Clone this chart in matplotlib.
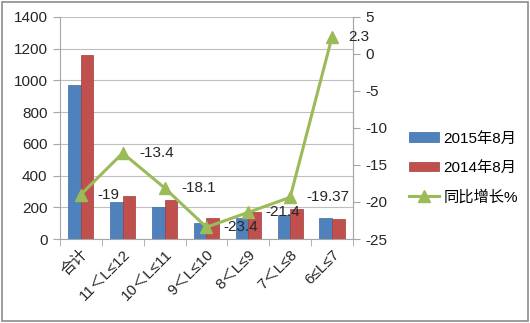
import numpy as np
import matplotlib.pyplot as plt
from matplotlib.patches import Rectangle

plt.rcParams['font.family'] = ['Liberation Sans', 'Noto Sans CJK SC', 'DejaVu Sans']
plt.rcParams['axes.unicode_minus'] = False

categories = ['合计', '11＜L≤12', '10＜L≤11', '9＜L≤10', '8＜L≤9', '7＜L≤8', '6≤L≤7']
sales_2015 = [970, 235, 201, 104, 135, 151, 130]
sales_2014 = [1158, 271, 245, 135, 170, 187, 127]
growth = [-19, -13.4, -18.1, -23.4, -21.4, -19.37, 2.3]
growth_labels = ['-19', '-13.4', '-18.1', '-23.4', '-21.4', '-19.37', '2.3']

blue = '#4F81BD'
red = '#C0504D'
green = '#9BBB59'
gray = '#A6A6A6'

fig = plt.figure(figsize=(5.3, 3.23), dpi=100)
ax = fig.add_axes([0.113, 0.26, 0.553, 0.688])
x = np.arange(len(categories))
w = 0.3
b1 = ax.bar(x - w / 2, sales_2015, w, color=blue, edgecolor='#3A6BA5', linewidth=0.5, label='2015年8月', zorder=2)
b2 = ax.bar(x + w / 2, sales_2014, w, color=red, edgecolor='#A23C39', linewidth=0.5, label='2014年8月', zorder=2)

ax.set_ylim(0, 1400)
ax.set_yticks(range(0, 1401, 200))
ax.set_xlim(-0.5, len(categories) - 0.5)
ax.yaxis.grid(True, color='#BFBFBF', linewidth=0.8, zorder=0)
ax.set_axisbelow(True)
ax.spines['top'].set_visible(False)
for s in ['left', 'bottom', 'right']:
    ax.spines[s].set_color(gray)
ax.set_xticks(x)
ax.set_xticklabels(categories, rotation=45, ha='right', rotation_mode='anchor', fontsize=11, color='#262626')
ax.set_xticks(np.arange(-0.5, len(categories), 1), minor=True)
ax.tick_params(axis='x', which='major', length=0, pad=6)
ax.tick_params(axis='x', which='minor', length=5, color=gray)
ax.tick_params(axis='y', length=5, color=gray, labelsize=11, labelcolor='#262626', pad=4)

ax2 = ax.twinx()
ax2.set_ylim(-25, 5)
ax2.set_yticks(range(-25, 6, 5))
ax2.tick_params(axis='y', length=5, color=gray, labelsize=11, labelcolor='#262626', pad=4)
for s in ['top', 'left', 'bottom']:
    ax2.spines[s].set_visible(False)
ax2.spines['right'].set_color(gray)
ln, = ax2.plot(x, growth, color=green, linewidth=2.2, marker='^', markersize=8,
               label='同比增长%', zorder=3)
for xi, yi, t in zip(x, growth, growth_labels):
    ax2.annotate(t, (xi, yi), xytext=(12, 0), textcoords='offset points',
                 ha='left', va='center', fontsize=11, color='#262626')

fig.legend([b1, b2, ln], ['2015年8月', '2014年8月', '同比增长%'],
           loc='center left', bbox_to_anchor=(0.745, 0.48), frameon=False,
           fontsize=11, handlelength=2.0, handleheight=0.55, labelspacing=1.0,
           handletextpad=0.3)

fig.patches.append(Rectangle((0.003, 0.005), 0.994, 0.99, transform=fig.transFigure,
                             fill=False, edgecolor='#8C8C8C', linewidth=1.2))
fig.savefig('out.png', dpi=100)
